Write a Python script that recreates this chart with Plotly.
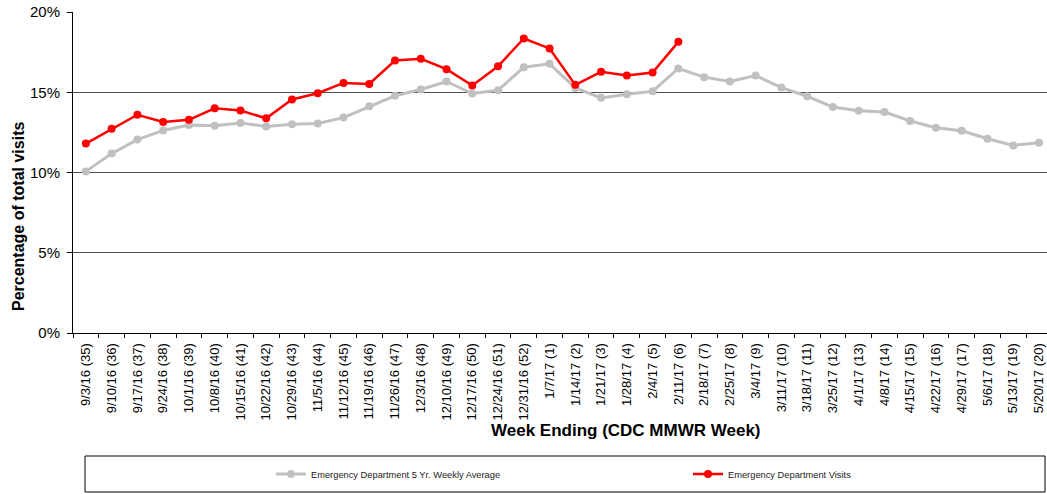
import plotly.graph_objects as go

weeks = ["9/3/16 (35)", "9/10/16 (36)", "9/17/16 (37)", "9/24/16 (38)", "10/1/16 (39)",
         "10/8/16 (40)", "10/15/16 (41)", "10/22/16 (42)", "10/29/16 (43)", "11/5/16 (44)",
         "11/12/16 (45)", "11/19/16 (46)", "11/26/16 (47)", "12/3/16 (48)", "12/10/16 (49)",
         "12/17/16 (50)", "12/24/16 (51)", "12/31/16 (52)", "1/7/17 (1)", "1/14/17 (2)",
         "1/21/17 (3)", "1/28/17 (4)", "2/4/17 (5)", "2/11/17 (6)", "2/18/17 (7)",
         "2/25/17 (8)", "3/4/17 (9)", "3/11/17 (10)", "3/18/17 (11)", "3/25/17 (12)",
         "4/1/17 (13)", "4/8/17 (14)", "4/15/17 (15)", "4/22/17 (16)", "4/29/17 (17)",
         "5/6/17 (18)", "5/13/17 (19)", "5/20/17 (20)"]

avg_5yr = [10.07, 11.18, 12.05, 12.62, 12.96, 12.92, 13.08, 12.87, 13.0, 13.06,
           13.42, 14.12, 14.78, 15.17, 15.67, 14.92, 15.12, 16.56, 16.77, 15.27,
           14.65, 14.87, 15.06, 16.48, 15.94, 15.67, 16.04, 15.29, 14.75, 14.08,
           13.85, 13.77, 13.21, 12.79, 12.6, 12.1, 11.69, 11.85]

visits = [11.8, 12.72, 13.6, 13.15, 13.28, 14.0, 13.86, 13.38, 14.55, 14.94,
          15.58, 15.52, 16.98, 17.08, 16.44, 15.42, 16.62, 18.35, 17.73, 15.46,
          16.27, 16.05, 16.23, 18.14]

W, H = 1047, 494
L, R, T, B = 73, 0, 12, 161
PW, PH = W - L - R, H - T - B
step = 25.76

def px(x):
    return (x - L) / PW

def py(y):
    return (T + PH - y) / PH

font = "Arial, 'Liberation Sans', sans-serif"

fig = go.Figure()
fig.add_trace(go.Scatter(
    x=weeks, y=[v / 100 for v in avg_5yr], mode="lines+markers",
    name="Emergency Department 5 Yr. Weekly Average",
    line=dict(color="#C0C0C0", width=3),
    marker=dict(color="#C0C0C0", size=8),
))
fig.add_trace(go.Scatter(
    x=weeks[:len(visits)], y=[v / 100 for v in visits], mode="lines+markers",
    name="Emergency Department Visits",
    line=dict(color="#FF0000", width=2.5),
    marker=dict(color="#FF0000", size=8),
))

fig.update_layout(
    width=W, height=H,
    margin=dict(l=L, r=R, t=T, b=B, pad=0, autoexpand=False),
    paper_bgcolor="white", plot_bgcolor="white",
    font=dict(family=font, color="black"),
    showlegend=True,
    legend=dict(
        orientation="h", xref="container", yref="container",
        x=271 / W, y=1 - 474 / H, xanchor="left", yanchor="middle",
        entrywidth=372, entrywidthmode="pixels",
        font=dict(size=9.3, family=font, color="#222"),
        bgcolor="rgba(0,0,0,0)", itemwidth=30,
    ),
    xaxis=dict(
        type="category", range=[-0.5, -0.5 + PW / step], automargin=False,
        showgrid=False, showline=True, linecolor="black", linewidth=1,
        ticks="outside", tickson="boundaries", ticklen=4, tickcolor="black",
        tickangle=-90, tickfont=dict(size=13, family=font, color="black"),
        ticklabelstandoff=4, zeroline=False,
    ),
    yaxis=dict(
        range=[0, 0.2], tickvals=[0, 0.05, 0.1, 0.15, 0.2], tickformat=".0%",
        automargin=False,
        showgrid=True, gridcolor="#505050", gridwidth=1,
        showline=True, linecolor="black", linewidth=1,
        ticks="outside", ticklen=5, tickcolor="black",
        tickfont=dict(size=15, family=font, color="black"),
        ticklabelstandoff=4, zeroline=False,
    ),
    shapes=[dict(type="rect", xref="paper", yref="paper",
                 x0=px(85), x1=px(1045), y0=py(456), y1=py(492),
                 line=dict(color="black", width=1), fillcolor="rgba(0,0,0,0)")],
    annotations=[
        dict(text="<b>Percentage of total visits</b>", xref="paper", yref="paper",
             x=px(18), y=py(217), textangle=-90, showarrow=False,
             font=dict(size=16, family=font, color="black"),
             xanchor="center", yanchor="middle"),
        dict(text="<b>Week Ending (CDC MMWR Week)</b>", xref="paper", yref="paper",
             x=px(626), y=py(430), showarrow=False,
             font=dict(size=17, family=font, color="black"),
             xanchor="center", yanchor="middle"),
    ],
)

fig.write_html("out.html", config={"displayModeBar": False},
               post_script="document.body.style.margin='0';document.body.style.overflow='hidden';")
